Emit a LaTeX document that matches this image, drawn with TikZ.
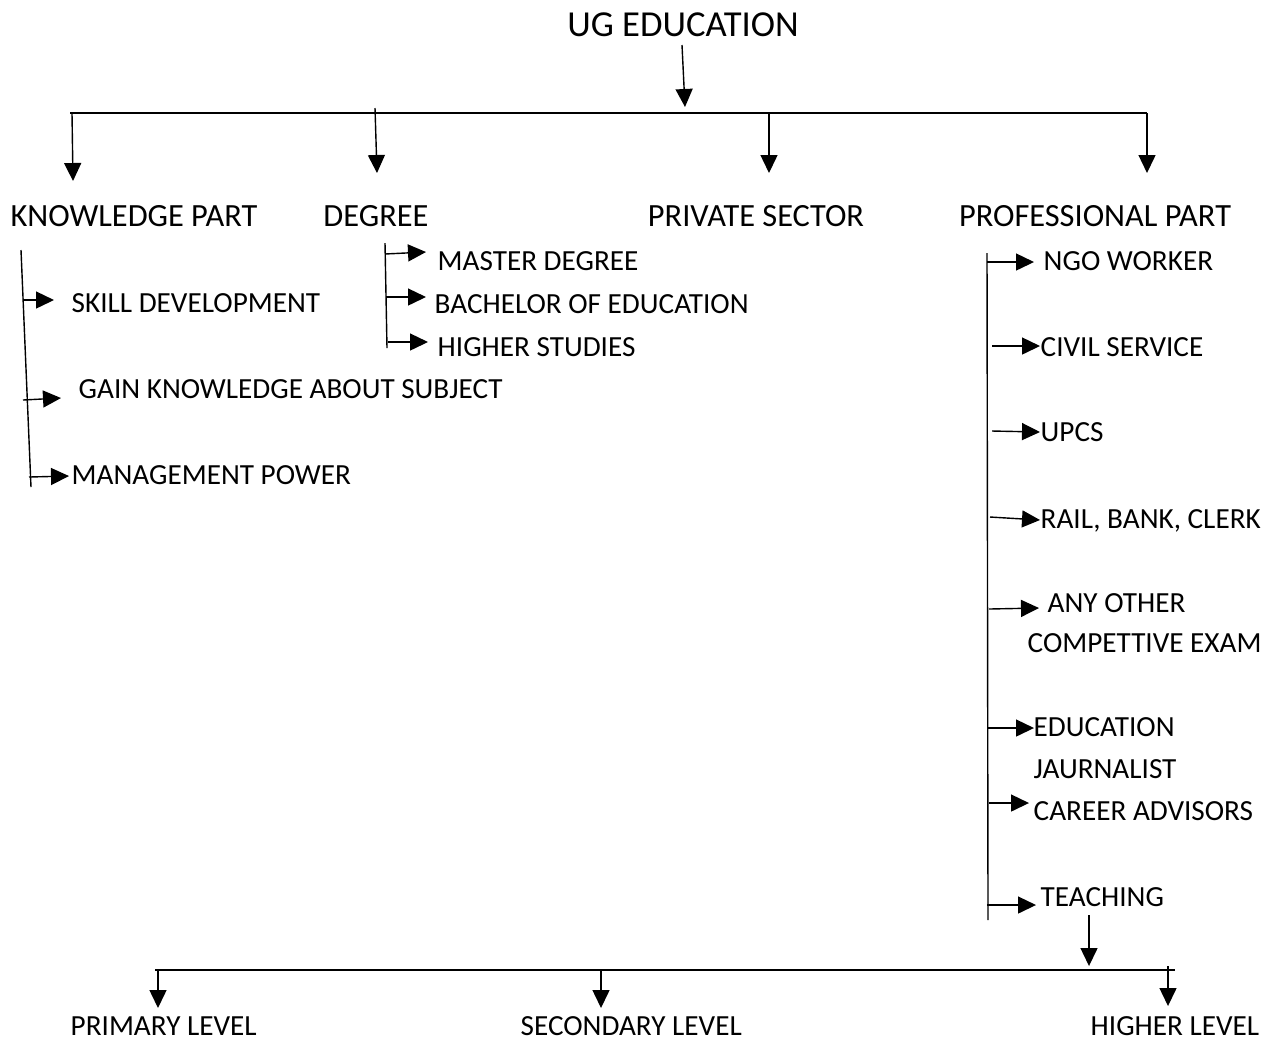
\documentclass[tikz,border=0pt]{standalone}
\usepackage{fontspec}
\setmainfont{Carlito}
\usetikzlibrary{arrows.meta}
\begin{document}
\begin{tikzpicture}[x=0.5pt,y=-0.5pt,
  line width=0.7pt,
  arr/.style={-{Triangle[length=9pt,width=8.5pt]}},
  lab/.style={inner sep=0pt,anchor=west,text height=9.3pt,text depth=0pt,font=\fontsize{14.6}{17}\selectfont},
  top/.style={inner sep=0pt,anchor=center,text height=10.4pt,text depth=0pt,font=\fontsize{16.2}{19}\selectfont},
  title/.style={inner sep=0pt,anchor=center,text height=11.8pt,text depth=0pt,font=\fontsize{18.3}{22}\selectfont}]
\useasboundingbox (0,0) rectangle (1272,1041);
% title
\node[title] (ug) at (683,25) {UG EDUCATION};
\coordinate (ugs) at (682,45);
\coordinate (ugt) at (685,107);
\draw[arr] (ugs) -- (ugt);
% main bus
\coordinate (busL) at (70,113);
\coordinate (busR) at (1147,113);
\draw (busL) -- (busR);
% level 1
\node[top] (kp) at (134,216) {KNOWLEDGE PART};
\node[top] (dg) at (376,216) {DEGREE};
\node[top] (ps) at (756,216) {PRIVATE SECTOR};
\node[top] (pp) at (1095,216) {PROFESSIONAL PART};
\coordinate (k1) at (72,113);   \coordinate (k2) at (73,181);
\coordinate (d1) at (375,108);  \coordinate (d2) at (377,173);
\coordinate (p1) at (769,113);  \coordinate (p2) at (769,173);
\coordinate (q1) at (1147,113); \coordinate (q2) at (1147,173);
\draw[arr] (k1) -- (k2);
\draw[arr] (d1) -- (d2);
\draw[arr] (p1) -- (p2);
\draw[arr] (q1) -- (q2);
% knowledge branch
\coordinate (kvt) at (21,250); \coordinate (kvb) at (31,487);
\draw (kvt) -- (kvb);
\node[lab] (sd) at (71,303) {SKILL DEVELOPMENT};
\node[lab] (gk) at (78,389) {GAIN KNOWLEDGE ABOUT SUBJECT};
\node[lab] (mp) at (71,475) {MANAGEMENT POWER};
\coordinate (a1) at (24,300); \coordinate (a1t) at (54,300);
\coordinate (a2) at (23,400); \coordinate (a2t) at (61,398);
\coordinate (a3) at (29,477); \coordinate (a3t) at (69,476);
\draw[arr] (a1) -- (a1t);
\draw[arr] (a2) -- (a2t);
\draw[arr] (a3) -- (a3t);
% degree branch
\coordinate (dvt) at (385,243); \coordinate (dvb) at (387,348);
\draw (dvt) -- (dvb);
\node[lab] (md) at (437,261) {MASTER DEGREE};
\node[lab] (be) at (434,304) {BACHELOR OF EDUCATION};
\node[lab] (hs) at (437,347) {HIGHER STUDIES};
\coordinate (b1) at (385,254); \coordinate (b1t) at (426,252);
\coordinate (b2) at (386,297); \coordinate (b2t) at (426,297);
\coordinate (b3) at (388,342); \coordinate (b3t) at (428,342);
\draw[arr] (b1) -- (b1t);
\draw[arr] (b2) -- (b2t);
\draw[arr] (b3) -- (b3t);
% professional branch
\coordinate (pvt) at (987,253); \coordinate (pvb) at (988,920);
\draw (pvt) -- (pvb);
\node[lab] (ngo) at (1043,261) {NGO WORKER};
\node[lab] (cs)  at (1040,347) {CIVIL SERVICE};
\node[lab] (up)  at (1040,432) {UPCS};
\node[lab] (rb)  at (1040,519) {RAIL, BANK, CLERK};
\node[lab] (ao)  at (1047,603) {ANY OTHER};
\node[lab] (ce)  at (1027,643) {COMPETTIVE EXAM};
\node[lab] (ed)  at (1033,727) {EDUCATION};
\node[lab] (ja)  at (1033,769) {JAURNALIST};
\node[lab] (ca)  at (1033,811) {CAREER ADVISORS};
\node[lab] (te)  at (1040,897) {TEACHING};
\coordinate (c1) at (987,262); \coordinate (c1t) at (1034,262);
\coordinate (c2) at (992,346); \coordinate (c2t) at (1040,346);
\coordinate (c3) at (992,431); \coordinate (c3t) at (1040,432);
\coordinate (c4) at (990,517); \coordinate (c4t) at (1040,520);
\coordinate (c5) at (989,609); \coordinate (c5t) at (1039,608);
\coordinate (c6) at (987,728); \coordinate (c6t) at (1034,728);
\coordinate (c7) at (989,803); \coordinate (c7t) at (1029,803);
\coordinate (c8) at (987,905); \coordinate (c8t) at (1036,905);
\foreach \i in {1,...,8} {\draw[arr] (c\i) -- (c\i t);}
% teaching
\coordinate (ts) at (1089,915); \coordinate (tt) at (1089,966);
\draw[arr] (ts) -- (tt);
\coordinate (bbL) at (155,970); \coordinate (bbR) at (1175,970);
\draw (bbL) -- (bbR);
\node[lab] (pl) at (70,1026) {PRIMARY LEVEL};
\node[lab] (sl) at (520,1026) {SECONDARY LEVEL};
\node[lab] (hl) at (1090,1026) {HIGHER LEVEL};
\coordinate (e1) at (158,970);  \coordinate (e1t) at (158,1008);
\coordinate (e2) at (601,970);  \coordinate (e2t) at (601,1008);
\coordinate (e3) at (1168,966); \coordinate (e3t) at (1168,1006);
\draw[arr] (e1) -- (e1t);
\draw[arr] (e2) -- (e2t);
\draw[arr] (e3) -- (e3t);
\end{tikzpicture}
\end{document}
